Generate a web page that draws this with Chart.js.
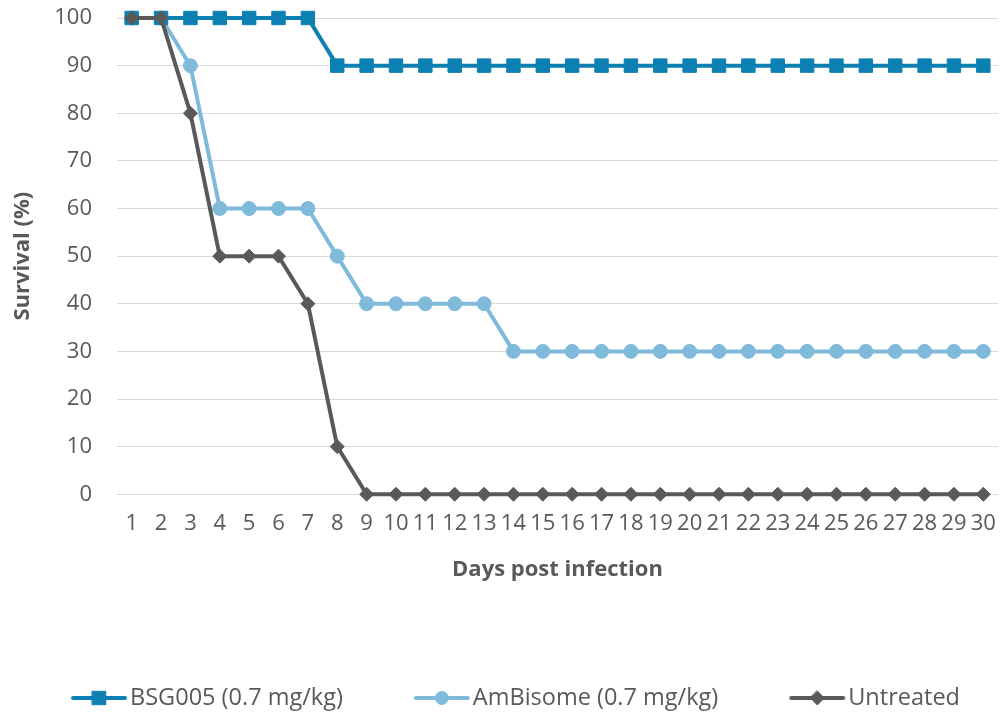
<!DOCTYPE html>
<html><head><meta charset="utf-8">
<script src="https://cdn.jsdelivr.net/npm/chart.js@4.4.1/dist/chart.umd.min.js"></script>
<style>html,body{margin:0;padding:0;background:#fff}#wrap{width:1000px;height:712px}</style>
</head><body><div id="wrap"><canvas id="c" width="1000" height="712"></canvas></div>
<script>
const days = ['1','2','3','4','5','6','7','8','9','10','11','12','13','14','15','16','17','18','19','20','21','22','23','24','25','26','27','28','29','30'];
const bsg005 = [100,100,100,100,100,100,100,90,90,90,90,90,90,90,90,90,90,90,90,90,90,90,90,90,90,90,90,90,90,90];
const ambisome = [100,100,90,60,60,60,60,50,40,40,40,40,40,30,30,30,30,30,30,30,30,30,30,30,30,30,30,30,30,30];
const untreated = [100,100,80,50,50,50,40,10,0,0,0,0,0,0,0,0,0,0,0,0,0,0,0,0,0,0,0,0,0,0];
const seriesNames = ['BSG005 (0.7 mg/kg)', 'AmBisome (0.7 mg/kg)', 'Untreated'];
const yTicks = [0,10,20,30,40,50,60,70,80,90,100];

const C1 = '#0d80b3', C2 = '#80badb', C3 = '#595959';
const TXT = '#595959';
const FONT = "'Open Sans', 'DejaVu Sans', sans-serif";

// legend geometry
const LFS = 23.5;          // legend font size
const LPAD = 38;           // legend item padding
const LGAP = 71;           // visible gap text end -> next icon
const LD = LGAP - LPAD;    // icon offset inside item box
const LW = LD + 59 - LFS / 2; // pointStyleWidth
const IMG_W = 2 * Math.ceil(Math.max(LW / 2 - LD, LD + 56 - LW / 2)) + 2;
const IMG_H = 24;

function drawMarker(ctx, style, r, x, y) {
  ctx.beginPath();
  if (style === 'rect') {
    const s = r * Math.SQRT1_2;
    ctx.rect(x - s, y - s, 2 * s, 2 * s);
  } else if (style === 'circle') {
    ctx.arc(x, y, r, 0, Math.PI * 2);
  } else {
    ctx.moveTo(x, y - r); ctx.lineTo(x + r, y); ctx.lineTo(x, y + r); ctx.lineTo(x - r, y); ctx.closePath();
  }
  ctx.fill(); ctx.stroke();
}
function makeIcon(color, style, r) {
  const c = document.createElement('canvas');
  c.width = IMG_W; c.height = IMG_H;
  const ctx = c.getContext('2d');
  const x0 = IMG_W / 2 + (LD - LW / 2); // icon start within image
  ctx.strokeStyle = color; ctx.fillStyle = color;
  ctx.lineWidth = 4; ctx.lineCap = 'round';
  ctx.beginPath(); ctx.moveTo(x0 + 2, IMG_H / 2); ctx.lineTo(x0 + 54, IMG_H / 2); ctx.stroke();
  ctx.lineWidth = 1;
  drawMarker(ctx, style, r, x0 + 28, IMG_H / 2);
  return c;
}
const icons = [makeIcon(C1, 'rect', 9.5), makeIcon(C2, 'circle', 6.5), makeIcon(C3, 'rectRot', 7)];

const chart = new Chart(document.getElementById('c'), {
  type: 'line',
  data: {
    labels: days,
    datasets: [
      { label: seriesNames[0], data: bsg005, borderColor: C1, backgroundColor: C1, borderWidth: 4,
        pointStyle: 'rect', pointRadius: 9.5, pointBorderWidth: 1, order: 1, clip: false },
      { label: seriesNames[1], data: ambisome, borderColor: C2, backgroundColor: C2, borderWidth: 4,
        pointStyle: 'circle', pointRadius: 7, pointBorderWidth: 1, order: 2, clip: false },
      { label: seriesNames[2], data: untreated, borderColor: C3, backgroundColor: C3, borderWidth: 4,
        pointStyle: 'rectRot', pointRadius: 7, pointBorderWidth: 1, order: 0, clip: false }
    ]
  },
  options: {
    responsive: false,
    animation: false,
    devicePixelRatio: 1,
    layout: { autoPadding: false, padding: { top: 18, right: 2, left: 0, bottom: 0 } },
    plugins: {
      tooltip: { enabled: false },
      legend: {
        position: 'bottom',
        maxHeight: 712 - (698 - LPAD - LFS / 2),
        labels: {
          usePointStyle: true,
          pointStyleWidth: LW,
          padding: LPAD,
          color: TXT,
          font: { family: FONT, size: LFS },
          generateLabels(ch) {
            return ch.data.datasets.map((ds, i) => ({
              text: ds.label, pointStyle: icons[i], fillStyle: ds.borderColor,
              strokeStyle: ds.borderColor, lineWidth: 0, hidden: false, datasetIndex: i, fontColor: TXT
            }));
          }
        }
      }
    },
    scales: {
      x: {
        offset: true,
        grid: { display: false, drawTicks: false },
        border: { display: false },
        ticks: { color: TXT, font: { family: FONT, size: 22 }, autoSkip: false, maxRotation: 0, padding: 16 },
        title: { display: true, text: 'Days post infection', color: TXT,
                 font: { family: FONT, size: 22, weight: 'bold' }, padding: { top: 4, bottom: 65 } },
        afterFit(s) { s.height = 154; s.paddingLeft = 0; s.paddingRight = 0; }
      },
      y: {
        min: 0, max: 100,
        grid: { color: '#d9d9d9', lineWidth: 1, drawTicks: false },
        border: { display: false },
        afterBuildTicks(s) { s.ticks = yTicks.map(v => ({ value: v })); },
        ticks: { color: TXT, font: { family: FONT, size: 22 }, padding: 25 },
        title: { display: true, text: 'Survival (%)', color: TXT,
                 font: { family: FONT, size: 22, weight: 'bold' }, padding: { top: 10, bottom: 0 } },
        afterFit(s) { s.width = 117; s.paddingTop = 0; s.paddingBottom = 0; }
      }
    }
  }
});
</script></body></html>
